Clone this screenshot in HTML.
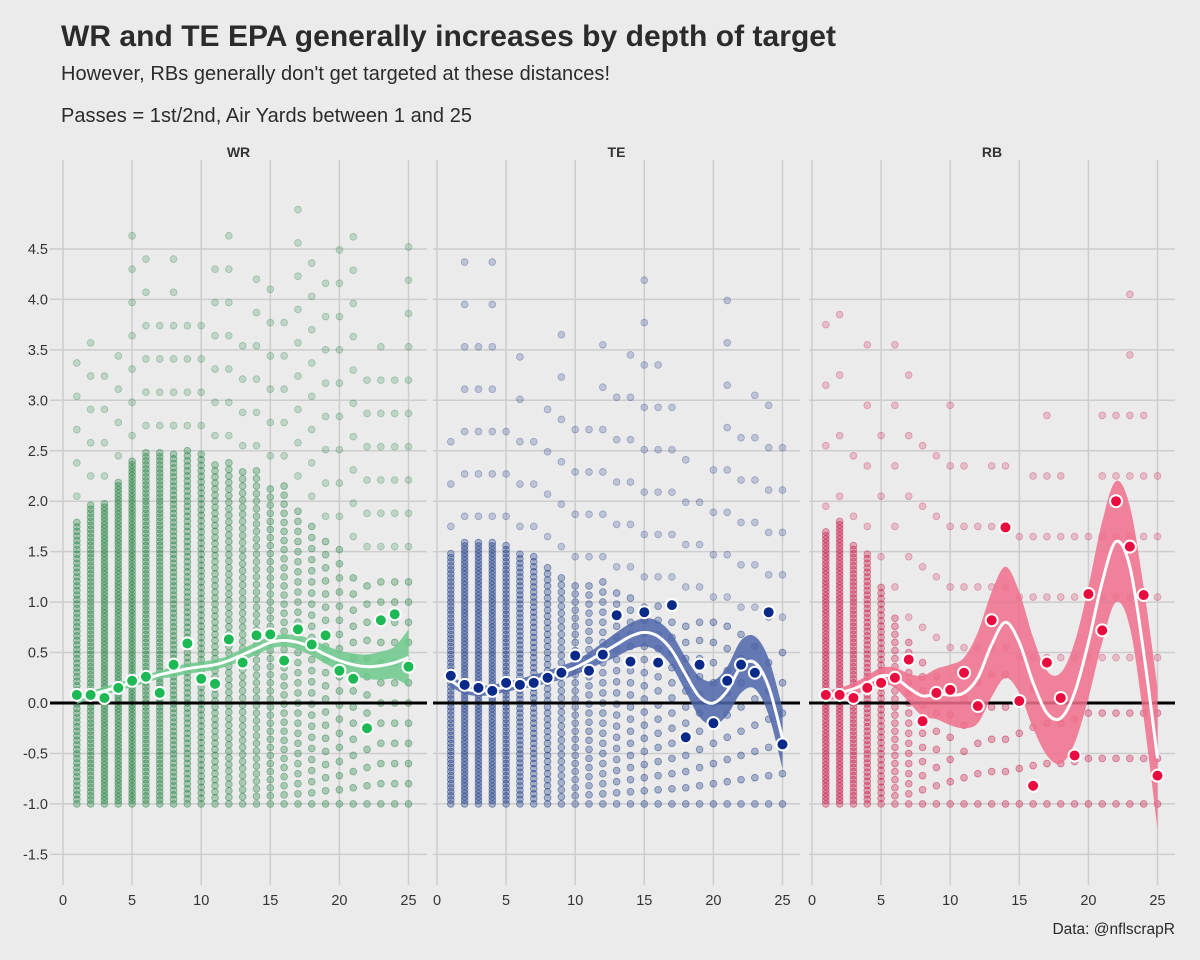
<!DOCTYPE html>
<html><head><meta charset="utf-8"><style>
body{margin:0;background:#ebebeb;font-family:"Liberation Sans",sans-serif;}
svg{display:block}
</style></head><body>
<svg id="c" width="1200" height="960" xmlns="http://www.w3.org/2000/svg">
<rect width="1200" height="960" fill="#ebebeb"/>
<text x="61" y="46" font-size="30" font-weight="bold" fill="#2b2b2b" textLength="775">WR and TE EPA generally increases by depth of target</text>
<text x="61" y="80" font-size="20" fill="#2b2b2b" textLength="549">However, RBs generally don't get targeted at these distances!</text>
<text x="61" y="122" font-size="20" fill="#2b2b2b" textLength="411">Passes = 1st/2nd, Air Yards between 1 and 25</text>
<text x="1175" y="934" font-size="15.5" fill="#2b2b2b" text-anchor="end">Data: @nflscrapR</text>
<g id="plot"></g>
</svg>
<script>
const panels=["WR","TE","RB"];
const yTicks=[-1.5,-1.0,-0.5,0.0,0.5,1.0,1.5,2.0,2.5,3.0,3.5,4.0,4.5];
const xTicks=[0,5,10,15,20,25];
const xs=[1,2,3,4,5,6,7,8,9,10,11,12,13,14,15,16,17,18,19,20,21,22,23,24,25];
const wrMean=[0.08,0.08,0.05,0.15,0.22,0.26,0.1,0.38,0.59,0.24,0.19,0.63,0.4,0.67,0.68,0.42,0.73,0.58,0.67,0.32,0.24,-0.25,0.82,0.88,0.36];
const teMean=[0.27,0.18,0.15,0.12,0.2,0.18,0.2,0.25,0.3,0.47,0.32,0.48,0.87,0.41,0.9,0.4,0.97,-0.34,0.38,-0.2,0.22,0.38,0.3,0.9,-0.41];
const rbMean=[0.08,0.08,0.05,0.15,0.2,0.25,0.43,-0.18,0.1,0.13,0.3,-0.03,0.82,1.74,0.02,-0.82,0.4,0.05,-0.52,1.08,0.72,2.0,1.55,1.07,-0.72];
const wrFit=[0.04,0.08,0.12,0.16,0.2,0.24,0.28,0.31,0.34,0.36,0.38,0.42,0.48,0.54,0.6,0.62,0.6,0.55,0.48,0.42,0.38,0.36,0.37,0.4,0.45];
const wrSe=[0.05,0.04,0.04,0.04,0.04,0.04,0.04,0.05,0.05,0.05,0.05,0.05,0.06,0.06,0.06,0.06,0.07,0.08,0.09,0.1,0.11,0.12,0.14,0.16,0.28];
const teFit=[0.22,0.14,0.12,0.13,0.16,0.19,0.22,0.26,0.3,0.35,0.42,0.5,0.58,0.66,0.7,0.66,0.52,0.28,0.06,0.0,0.12,0.36,0.4,0.16,-0.35];
const teSe=[0.06,0.05,0.05,0.05,0.05,0.05,0.06,0.06,0.07,0.07,0.08,0.1,0.12,0.13,0.14,0.15,0.16,0.17,0.2,0.22,0.24,0.26,0.26,0.28,0.3];
const rbFit=[0.07,0.1,0.14,0.2,0.27,0.25,0.15,0.07,0.09,0.08,0.1,0.25,0.58,0.8,0.6,0.2,-0.1,-0.15,0.1,0.6,1.2,1.6,1.35,0.5,-0.55];
const rbSe=[0.05,0.05,0.06,0.07,0.08,0.1,0.14,0.2,0.25,0.3,0.35,0.45,0.52,0.55,0.5,0.45,0.42,0.45,0.5,0.55,0.6,0.6,0.6,0.65,0.7];
const wrCloudMax=[1.8,2.0,2.0,2.2,2.4,2.5,2.5,2.5,2.5,2.5,2.4,2.4,2.3,2.3,2.2,2.2,2.0,1.8,1.6,1.6,1.4,1.3,1.3,1.3,1.3];
const teCloudMax=[1.5,1.6,1.6,1.6,1.6,1.5,1.5,1.4,1.3,1.2,1.2,1.2,1.1,1.1,1.0,1.0,1.0,0.9,0.9,0.8,0.8,0.7,0.7,0.6,0.6];
const rbCloudMax=[1.7,1.8,1.6,1.5,1.2,0.9,0.6,0.5,0.4,0.3,0.3,0.3,0.3,0.3,0.2,0.2,0.2,0.2,0.2,0.2,0.2,0.2,0.2,0.2,0.2];
const wrCloudStep=[0.045,0.04,0.035,0.035,0.035,0.04,0.04,0.045,0.05,0.055,0.06,0.065,0.07,0.075,0.08,0.09,0.1,0.11,0.13,0.14,0.16,0.18,0.2,0.2,0.2];
const teCloudStep=[0.04,0.035,0.035,0.035,0.04,0.045,0.05,0.06,0.07,0.08,0.09,0.1,0.11,0.12,0.13,0.14,0.15,0.16,0.18,0.2,0.22,0.24,0.26,0.28,0.3];
const rbCloudStep=[0.035,0.035,0.04,0.045,0.055,0.08,0.1,0.14,0.18,0.22,0.26,0.3,0.32,0.32,0.35,0.38,0.4,0.4,0.42,0.45,0.45,0.45,0.45,0.45,0.45];
const wrSparseMax=[3.6,3.6,3.4,3.6,4.9,4.4,3.8,4.5,4.0,4.0,4.5,4.8,3.8,4.3,4.2,4.0,5.0,4.6,4.4,4.8,4.9,3.4,3.6,3.4,4.8];
const teSparseMax=[2.8,4.6,3.6,4.7,2.9,3.5,3.0,3.3,3.8,2.8,3.0,3.6,3.2,3.5,4.3,3.4,3.2,2.6,2.2,2.7,4.0,2.7,3.2,3.2,2.8];
const rbSparseMax=[4.1,3.9,2.9,3.7,3.1,3.6,3.6,2.9,3.0,3.0,2.4,2.3,2.9,2.4,1.8,2.4,3.0,2.6,2.2,2.0,3.1,3.1,4.2,3.1,2.8];
const cfg=[
 {x0:63,l:50,r:427,mean:wrMean,fit:wrFit,se:wrSe,cmax:wrCloudMax,cstep:wrCloudStep,smax:wrSparseMax,sstep:0.33,pt:"#157a36",dot:"#1db954",band:"#6cc98b"},
 {x0:437,l:433,r:800,mean:teMean,fit:teFit,se:teSe,cmax:teCloudMax,cstep:teCloudStep,smax:teSparseMax,sstep:0.42,pt:"#0b2a7e",dot:"#0a2a8a",band:"#4e66aa"},
 {x0:812,l:809,r:1175,mean:rbMean,fit:rbFit,se:rbSe,cmax:rbCloudMax,cstep:rbCloudStep,smax:rbSparseMax,sstep:0.6,pt:"#c8073a",dot:"#ea0b3f",band:"#f0708c"}];
const NS="http://www.w3.org/2000/svg";
const g=document.getElementById("plot");
const yS=v=>703-v*100.9;
function mk(t,a,p){const e=document.createElementNS(NS,t);for(const k in a)e.setAttribute(k,a[k]);(p||g).appendChild(e);return e;}
function smooth(pts){let d="M"+pts[0][0]+","+pts[0][1];
 for(let i=0;i<pts.length-1;i++){const p0=pts[i-1]||pts[i],p1=pts[i],p2=pts[i+1],p3=pts[i+2]||p2;
  d+="C"+(p1[0]+(p2[0]-p0[0])/6)+","+(p1[1]+(p2[1]-p0[1])/6)+" "+(p2[0]-(p3[0]-p1[0])/6)+","+(p2[1]-(p3[1]-p1[1])/6)+" "+p2[0]+","+p2[1];}
 return d;}
yTicks.forEach(v=>{const t=mk("text",{x:48,y:yS(v)+5,"font-size":14.5,fill:"#333","text-anchor":"end"});t.textContent=v.toFixed(1);

});
cfg.forEach((c,pi)=>{
 const xS=v=>c.x0+v*13.82;
 const pg=mk("g",{});
 
 
 yTicks.forEach(v=>mk("line",{x1:c.l,x2:c.r,y1:yS(v),y2:yS(v),stroke:"#cdcdcd","stroke-width":1.5},pg));
 xTicks.forEach(v=>{mk("line",{x1:xS(v),x2:xS(v),y1:160,y2:885,stroke:"#cdcdcd","stroke-width":1.5},pg);
  const t=mk("text",{x:xS(v),y:905,"font-size":14.5,fill:"#333","text-anchor":"middle"},pg);t.textContent=v;
  
  });
 const st=mk("text",{x:(c.l+c.r)/2,y:157,"font-size":14,"font-weight":"bold",fill:"#333","text-anchor":"middle"},pg);st.textContent=panels[pi];
 
 
 xs.forEach((x,i)=>{
  for(let v=-1.0;v<=c.cmax[i];v+=c.cstep[i]){
   const p=mk("circle",{cx:xS(x),cy:yS(v),r:3.4,fill:c.pt,"fill-opacity":0.3,stroke:c.pt,"stroke-opacity":0.45,"stroke-width":0.8},pg);
   
   }
  for(let v=c.cmax[i]+0.25;v<=c.smax[i];v+=c.sstep){
   const p=mk("circle",{cx:xS(x),cy:yS(v),r:3.4,fill:c.pt,"fill-opacity":0.2,stroke:c.pt,"stroke-opacity":0.3,"stroke-width":0.8},pg);
   
   }
 });
 mk("line",{x1:c.l,x2:c.r,y1:yS(0),y2:yS(0),stroke:"#000","stroke-width":3},pg);
 const up=xs.map((x,i)=>[xS(x),yS(c.fit[i]+c.se[i])]);
 const lo=xs.map((x,i)=>[xS(x),yS(c.fit[i]-c.se[i])]).reverse();
 const b=mk("path",{d:smooth(up)+smooth(lo).replace("M","L")+"Z",fill:c.band,"fill-opacity":0.85},pg);
 
 
 const ln=mk("path",{d:smooth(xs.map((x,i)=>[xS(x),yS(c.fit[i])])),fill:"none",stroke:"#fff","stroke-width":3,"stroke-linejoin":"round"},pg);
 
 
 xs.forEach((x,i)=>{const m=mk("circle",{cx:xS(x),cy:yS(c.mean[i]),r:6,fill:c.dot,stroke:"#fff","stroke-width":2},pg);
  
  });
});
</script>
</body></html>
